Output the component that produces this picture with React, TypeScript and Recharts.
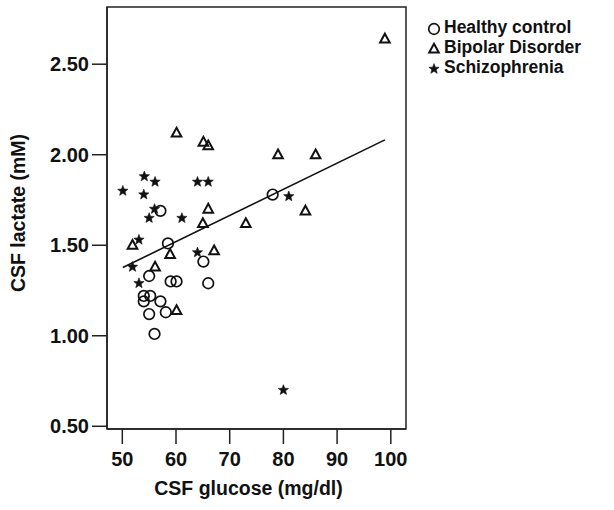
import { ScatterChart, Scatter, XAxis, YAxis, ReferenceArea } from 'recharts';

// Values
const healthyX = [57.1, 58.5, 65.1, 55.0, 59.0, 60.1, 66.0, 54.0, 55.2, 54.0, 57.1, 55.0, 58.1, 56.0, 78.0];
const healthyY = [1.69, 1.51, 1.41, 1.33, 1.30, 1.30, 1.29, 1.22, 1.22, 1.19, 1.19, 1.12, 1.13, 1.01, 1.78];

const bipolarX = [60.1, 65.1, 66.0, 79.0, 86.0, 98.9, 66.0, 84.1, 65.0, 73.0, 51.9, 67.1, 58.9, 56.1, 60.1];
const bipolarY = [2.12, 2.07, 2.05, 2.00, 2.00, 2.64, 1.70, 1.69, 1.62, 1.62, 1.50, 1.47, 1.45, 1.38, 1.14];

const schizoX = [54.1, 56.1, 50.1, 54.0, 64.0, 66.0, 56.0, 55.0, 61.1, 53.1, 64.0, 51.9, 53.1, 81.0, 80.0];
const schizoY = [1.88, 1.85, 1.80, 1.78, 1.85, 1.85, 1.70, 1.65, 1.65, 1.53, 1.46, 1.38, 1.29, 1.77, 0.70];

// fit line end points
const fitX = [50.1, 98.9];
const fitY = [1.377, 2.082];

const xTicks = [50, 60, 70, 80, 90, 100];
const yTicks = [0.5, 1.0, 1.5, 2.0, 2.5];

const X_DOMAIN: [number, number] = [47.15, 102.83];
const Y_DOMAIN: [number, number] = [0.485, 2.816];

const FONT = '"Liberation Sans", Arial, Helvetica, sans-serif';
const INK = '#111';
const AXIS = '#222';

const zip = (xs: number[], ys: number[]) => xs.map((x, i) => ({ x, y: ys[i] }));

const healthy = zip(healthyX, healthyY);
const bipolar = zip(bipolarX, bipolarY);
const schizo = zip(schizoX, schizoY);
const fit = zip(fitX, fitY);

// ─── marker shapes ────────────────────────────────────────────────────────────

const CircleMark = ({ cx, cy }: any) => (
  <circle cx={cx} cy={cy} r={5.3} fill="none" stroke={INK} strokeWidth={1.7} />
);

const TriangleMark = ({ cx, cy }: any) => (
  <path
    d={`M ${cx} ${cy - 5.2} L ${cx + 4.8} ${cy + 3.6} L ${cx - 4.8} ${cy + 3.6} Z`}
    fill="none"
    stroke={INK}
    strokeWidth={2}
  />
);

const starPath = (cx: number, cy: number, ro: number, ri: number) => {
  let d = '';
  for (let i = 0; i < 10; i++) {
    const r = i % 2 === 0 ? ro : ri;
    const a = -Math.PI / 2 + (i * Math.PI) / 5;
    d += `${i === 0 ? 'M' : 'L'} ${cx + r * Math.cos(a)} ${cy + r * Math.sin(a)} `;
  }
  return d + 'Z';
};

const StarMark = ({ cx, cy }: any) => (
  <path d={starPath(cx, cy, 5.4, 2.3)} fill={INK} stroke={INK} strokeWidth={0.6} />
);

const NoMark = () => <g />;

// ─── legend (drawn outside the chart so it doesn't eat plot space) ──────────

const LEGEND_ROWS = [
  { name: 'Healthy control', Mark: CircleMark },
  { name: 'Bipolar Disorder', Mark: TriangleMark },
  { name: 'Schizophrenia', Mark: StarMark },
];

const LegendBox = () => (
  <svg width={190} height={80} style={{ position: 'absolute', left: 424, top: 12 }}>
    {LEGEND_ROWS.map((row, i) => (
      <g key={row.name}>
        <row.Mark cx={10} cy={17 + i * 20} />
        <text
          x={20}
          y={15 + i * 20}
          dominantBaseline="central"
          fontFamily={FONT}
          fontWeight={700}
          fontSize={17.5}
          fill={INK}
        >
          {row.name}
        </text>
      </g>
    ))}
  </svg>
);

// ─── axis titles ──────────────────────────────────────────────────────────────

const XTitle = ({ viewBox }: any) => {
  const { x, y, width, height } = viewBox;
  return (
    <text
      x={x + width / 2 - 8}
      y={y + height - 15}
      textAnchor="middle"
      fontFamily={FONT}
      fontWeight={700}
      fontSize={19.5}
      fill={INK}
    >
      CSF glucose (mg/dl)
    </text>
  );
};

const YTitle = ({ viewBox }: any) => {
  const { y, height } = viewBox;
  const cx = 18;
  const cy = y + height / 2 - 5;
  return (
    <text
      x={cx}
      y={cy}
      transform={`rotate(-90 ${cx} ${cy})`}
      textAnchor="middle"
      dominantBaseline="central"
      fontFamily={FONT}
      fontWeight={700}
      fontSize={19.5}
      fill={INK}
    >
      CSF lactate (mM)
    </text>
  );
};

const tickStyle = { fontFamily: FONT, fontWeight: 700, fontSize: 20, fill: INK };

export default function App() {
  return (
    <div style={{ position: 'absolute', left: 0, top: 0, width: 614, height: 510, background: '#fff' }}>
      <ScatterChart
        width={614}
        height={510}
        margin={{ top: 7, right: 208, bottom: 0, left: 0 }}
      >
        <XAxis
          type="number"
          dataKey="x"
          domain={X_DOMAIN}
          ticks={xTicks}
          allowDataOverflow
          height={81}
          tickSize={15}
          tickMargin={8}
          tick={tickStyle}
          axisLine={{ stroke: AXIS, strokeWidth: 1.5 }}
          tickLine={{ stroke: AXIS, strokeWidth: 1.5 }}
          label={<XTitle />}
        />
        <YAxis
          type="number"
          dataKey="y"
          domain={Y_DOMAIN}
          ticks={yTicks}
          allowDataOverflow
          width={107}
          tickSize={15}
          tickMargin={3}
          tick={tickStyle}
          tickFormatter={(v: number) => v.toFixed(2)}
          axisLine={{ stroke: AXIS, strokeWidth: 1.5 }}
          tickLine={{ stroke: AXIS, strokeWidth: 1.5 }}
          label={<YTitle />}
        />
        {/* plot frame */}
        <ReferenceArea
          x1={X_DOMAIN[0]}
          x2={X_DOMAIN[1]}
          y1={Y_DOMAIN[0]}
          y2={Y_DOMAIN[1]}
          fill="none"
          stroke={AXIS}
          strokeWidth={1.5}
          ifOverflow="visible"
        />
        <Scatter
          name="fit"
          data={fit}
          shape={<NoMark />}
          line={{ stroke: INK, strokeWidth: 1.6 }}
          isAnimationActive={false}
          legendType="none"
        />
        <Scatter name="Healthy control" data={healthy} shape={<CircleMark />} isAnimationActive={false} />
        <Scatter name="Bipolar Disorder" data={bipolar} shape={<TriangleMark />} isAnimationActive={false} />
        <Scatter name="Schizophrenia" data={schizo} shape={<StarMark />} isAnimationActive={false} />
      </ScatterChart>
      <LegendBox />
    </div>
  );
}
